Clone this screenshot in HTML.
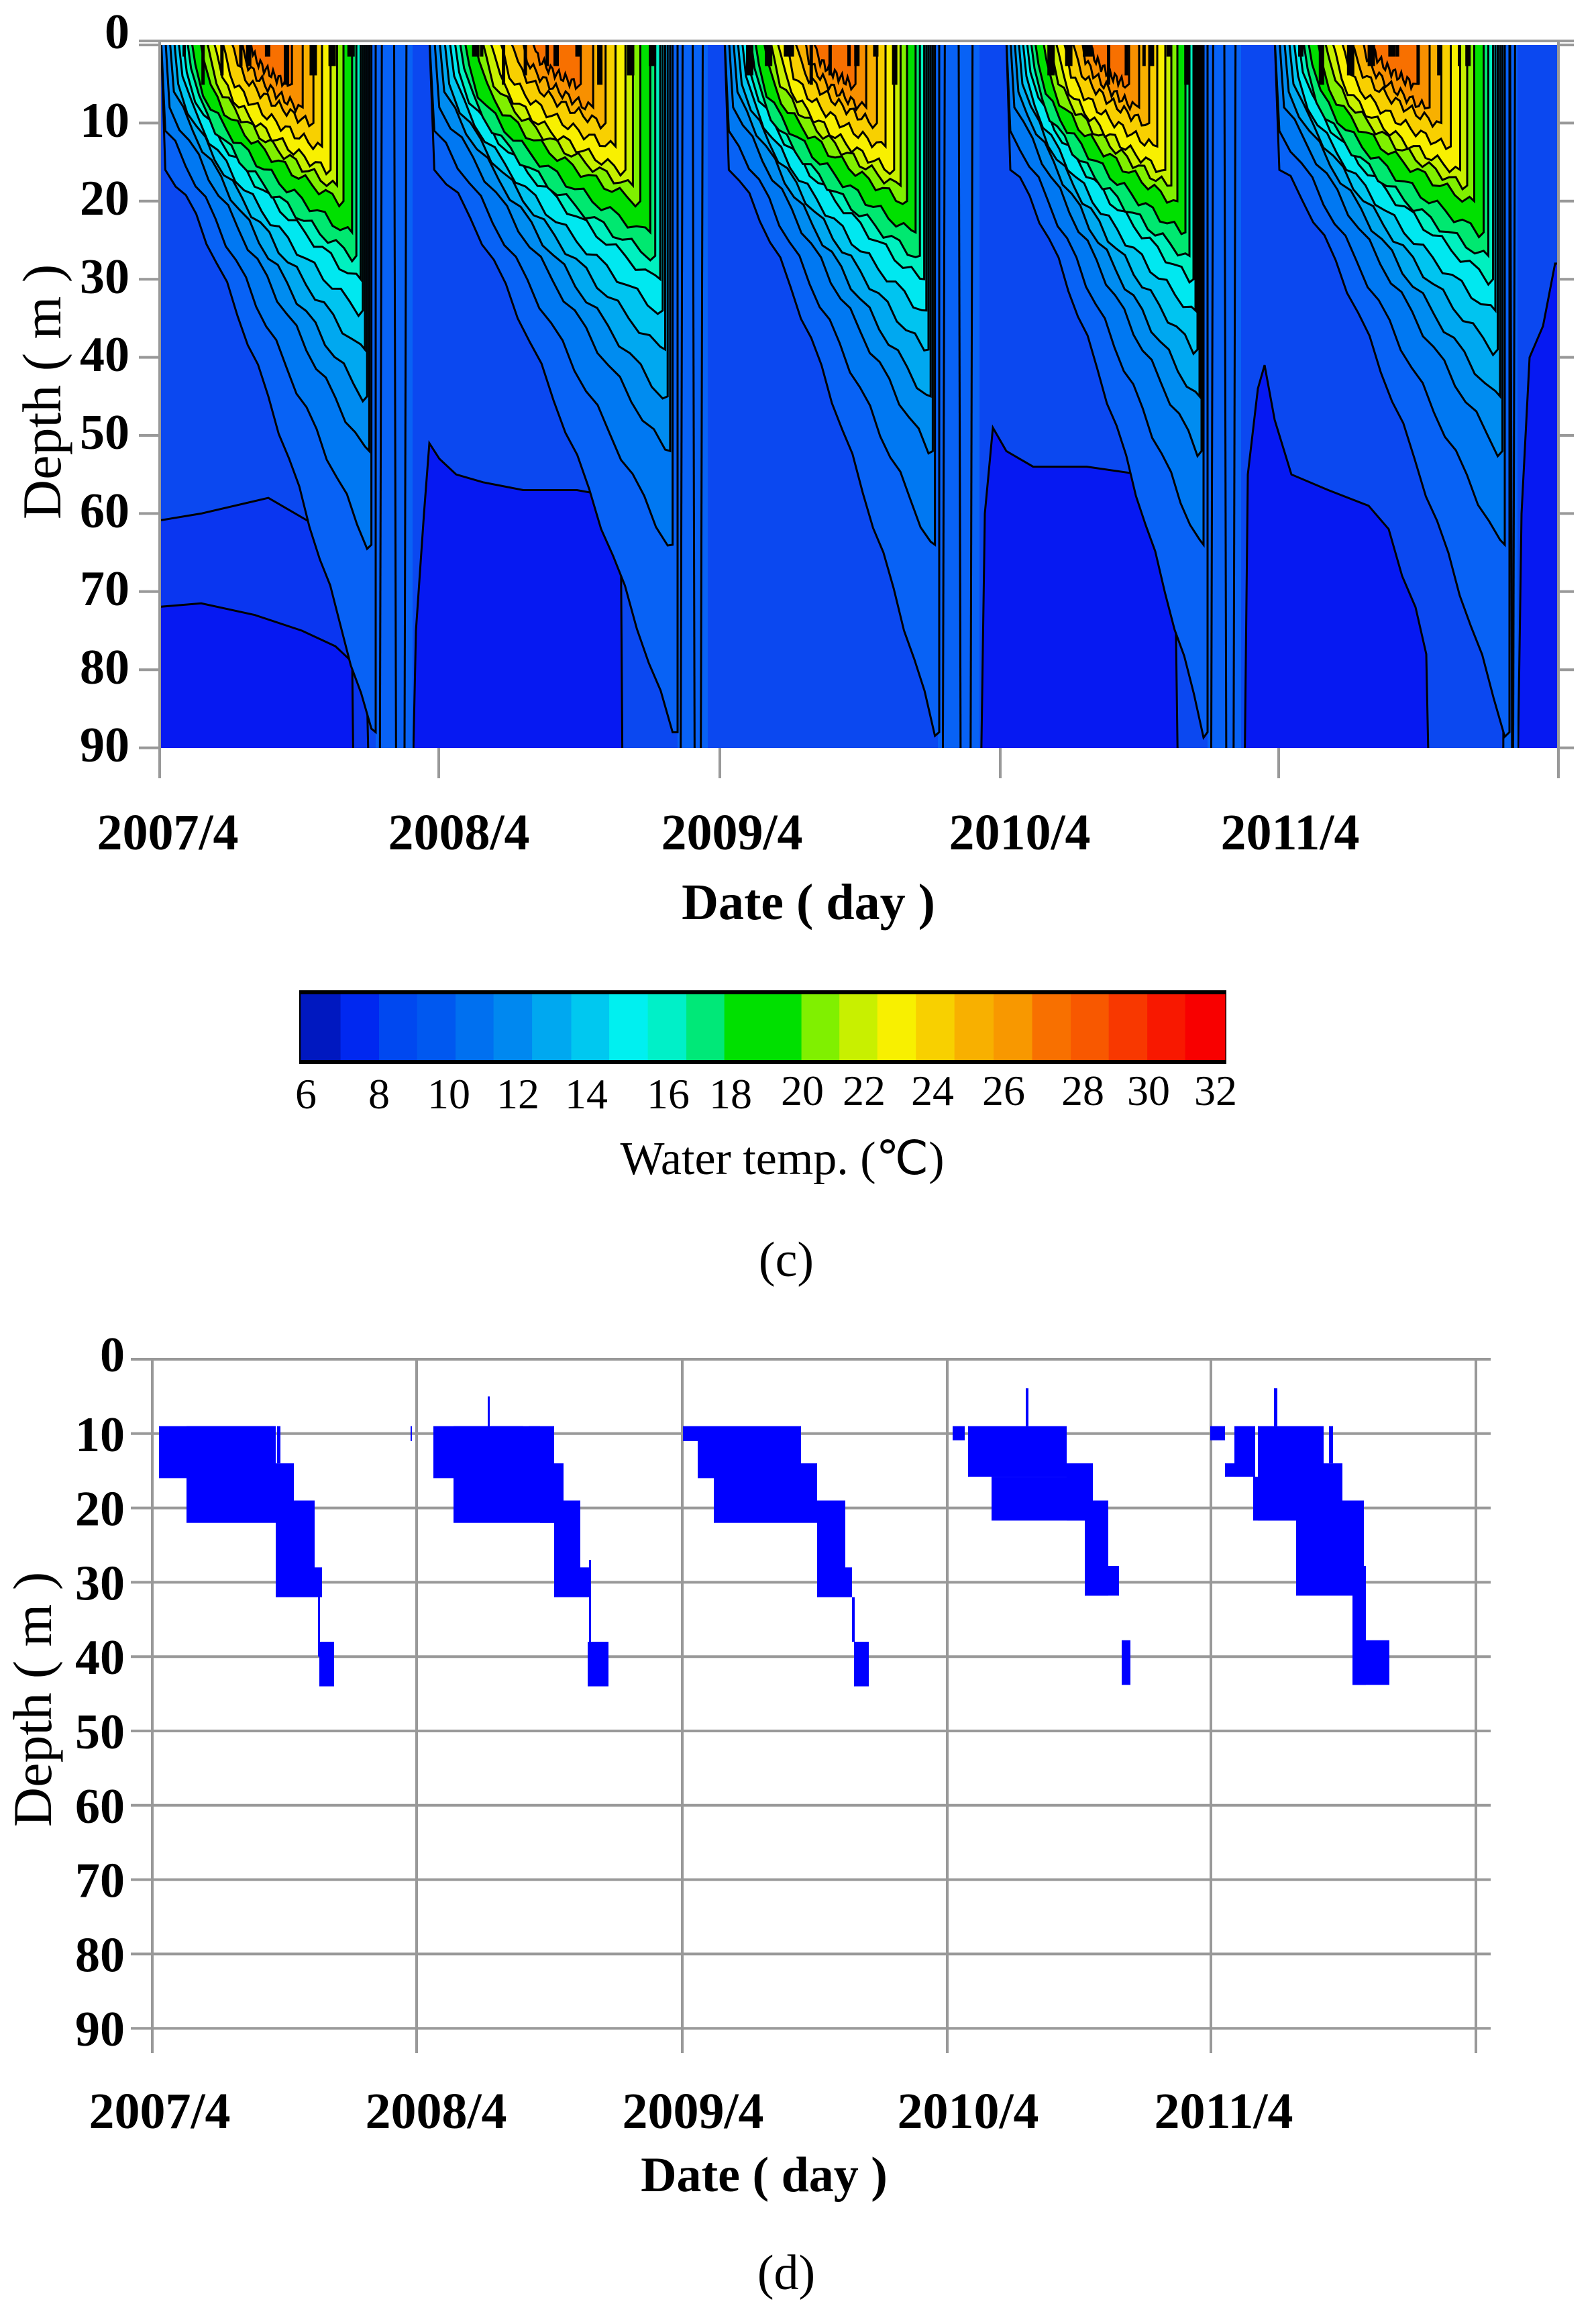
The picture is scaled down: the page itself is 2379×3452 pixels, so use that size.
<!DOCTYPE html>
<html><head><meta charset="utf-8">
<style>
html,body{margin:0;padding:0;background:#fff;}
body{width:2379px;height:3452px;position:relative;overflow:hidden;}
svg{position:absolute;left:0;top:0;}
.t{font-family:"Liberation Serif",serif;font-weight:bold;fill:#000;}
.c{font-family:"Liberation Serif",serif;fill:#000;}
</style></head><body>
<svg id="s" width="2379" height="3452" viewBox="0 0 2379 3452" xmlns="http://www.w3.org/2000/svg">
<defs><clipPath id="cp"><rect x="238" y="67" width="2086" height="1048"/></clipPath></defs>
<g id="contour" clip-path="url(#cp)">
<rect x="238" y="67" width="2086" height="1048" fill="#0b48f0"/>
</g>
<g stroke="#999" stroke-width="4" fill="none">
<line x1="207" y1="61" x2="2346" y2="61"/>
<line x1="238" y1="61" x2="238" y2="1160"/>
<line x1="2323" y1="61" x2="2323" y2="1160"/>
</g>
<g id="topticks" stroke="#999" stroke-width="4"></g>
<g class="t" font-size="74" text-anchor="end">
<text x="193" y="72">0</text>
<text x="193" y="204">10</text>
<text x="193" y="320">20</text>
<text x="193" y="437">30</text>
<text x="193" y="553">40</text>
<text x="193" y="669">50</text>
<text x="193" y="786">60</text>
<text x="193" y="902">70</text>
<text x="193" y="1019">80</text>
<text x="193" y="1135">90</text>
</g>
<text class="c" font-size="82" text-anchor="middle" transform="translate(90,584) rotate(-90)">Depth ( m )</text>
<g class="t" font-size="76" text-anchor="middle">
<text x="250" y="1266">2007/4</text>
<text x="684" y="1266">2008/4</text>
<text x="1091" y="1266">2009/4</text>
<text x="1520" y="1266">2010/4</text>
<text x="1923" y="1266">2011/4</text>
</g>
<text class="t" font-size="76" text-anchor="middle" x="1205" y="1370">Date ( day )</text>
<rect x="446" y="1476" width="1382" height="110" fill="#000"/>
<g id="cbar"></g>
<g class="c" font-size="64" text-anchor="middle">
<text x="456" y="1652">6</text>
<text x="565" y="1652">8</text>
<text x="669" y="1652">10</text>
<text x="772" y="1652">12</text>
<text x="874" y="1652">14</text>
<text x="996" y="1652">16</text>
<text x="1089" y="1652">18</text>
<text x="1196" y="1647">20</text>
<text x="1288" y="1647">22</text>
<text x="1390" y="1647">24</text>
<text x="1496" y="1647">26</text>
<text x="1614" y="1647">28</text>
<text x="1712" y="1647">30</text>
<text x="1812" y="1647">32</text>
</g>
<text class="c" font-size="70" text-anchor="middle" x="1166" y="1750">Water temp. (℃)</text>
<text class="c" font-size="74" text-anchor="middle" x="1172" y="1902">(c)</text>
<g id="grid" stroke="#999" stroke-width="4"></g>
<g id="blocks" fill="#0000ff"></g>
<g class="t" font-size="74" text-anchor="end" id="blab"></g>
<text class="c" font-size="82" text-anchor="middle" transform="translate(76,2533) rotate(-90)">Depth ( m )</text>
<g class="t" font-size="76" text-anchor="middle">
<text x="238" y="3172">2007/4</text>
<text x="650" y="3172">2008/4</text>
<text x="1033" y="3172">2009/4</text>
<text x="1443" y="3172">2010/4</text>
<text x="1824" y="3172">2011/4</text>
</g>
<text class="t" font-size="74" text-anchor="middle" x="1139" y="3266">Date ( day )</text>
<text class="c" font-size="74" text-anchor="middle" x="1172" y="3412">(d)</text>
</svg>
<script>
var NS="http://www.w3.org/2000/svg";
function el(p,t,a){var e=document.createElementNS(NS,t);for(var k in a)e.setAttribute(k,a[k]);document.getElementById(p).appendChild(e);return e;}
var Y0=67,S=11.64;function yd(d){return Y0+d*S;}
for(var i=0;i<=9;i++){var y=yd(i*10);el("topticks","line",{x1:207,y1:y,x2:238,y2:y});el("topticks","line",{x1:2323,y1:y,x2:2346,y2:y});}
[238,654,1073,1491,1906].forEach(function(x){el("topticks","line",{x1:x,y1:1115,x2:x,y2:1160});});
var cb=[[20,85,"#0018c0"],[85,148,"#0028f0"],[148,210,"#0048f0"],[210,273,"#0058f0"],[273,335,"#0070f0"],[335,398,"#0088f0"],[398,462,"#00a8f0"],[462,524,"#00c8f0"],[524,587,"#00f0f0"],[587,650,"#00f0c8"],[650,712,"#00e878"],[712,838,"#00e000"],[838,900,"#80f000"],[900,962,"#c8f000"],[962,1025,"#f8f000"],[1025,1088,"#f8d000"],[1088,1152,"#f8b000"],[1152,1215,"#f89800"],[1215,1278,"#f87000"],[1278,1340,"#f85800"],[1340,1403,"#f83800"],[1403,1465,"#f81800"],[1465,1530,"#f80000"]];
cb.forEach(function(c){var a=430+c[0]/1.096,b=430+c[1]/1.096;el("cbar","rect",{x:a,y:1482,width:b-a+0.5,height:98,fill:c[2]});});
function poly(pts,fill,sw){el("contour","polygon",{points:pts.map(function(p){return p[0].toFixed(1)+","+p[1].toFixed(1)}).join(" "),fill:fill,stroke:"#000","stroke-width":sw===undefined?3:sw});}
poly([[230,yd(61)],[300,yd(60)],[400,yd(58)],[460,yd(61)],[500,yd(62)],[530,yd(66)],[545,yd(75)],[550,yd(95)],[230,yd(95)]],"#0a36f0");
poly([[230,yd(72)],[300,yd(71.5)],[380,yd(73)],[450,yd(75)],[500,yd(77)],[525,yd(79)],[527,yd(95)],[230,yd(95)]],"#0619f2");
poly([[615,yd(95)],[620,yd(75)],[632,yd(60)],[640,yd(51)],[655,yd(53)],[680,yd(55)],[720,yd(56)],[780,yd(57)],[860,yd(57)],[925,yd(58)],[928,yd(95)]],"#0619f2");
poly([[1462,yd(95)],[1468,yd(60)],[1480,yd(49)],[1500,yd(52)],[1540,yd(54)],[1620,yd(54)],[1700,yd(55)],[1750,yd(57)],[1756,yd(95)]],"#0619f2");
poly([[1855,yd(95)],[1860,yd(55)],[1875,yd(44)],[1885,yd(41)],[1900,yd(48)],[1925,yd(55)],[1980,yd(57)],[2040,yd(59)],[2070,yd(62)],[2090,yd(68)],[2110,yd(72)],[2126,yd(78)],[2130,yd(95)]],"#0619f2");
poly([[2262,yd(95)],[2268,yd(60)],[2280,yd(40)],[2300,yd(36)],[2318,yd(28)],[2330,yd(28)],[2330,yd(95)]],"#0619f2");
[[560,615],[1010,1055],[1398,1460],[1800,1850],[2240,2262]].forEach(function(b){poly([[b[0],yd(-1)],[b[1],yd(-1)],[b[1],yd(95)],[b[0],yd(95)]],"#0862f5",0);
 for(var k=0;k<3;k++){var x=b[0]+(k+0.5)*(b[1]-b[0])/3;el("contour","line",{x1:x,y1:yd(0),x2:x+((k%2)?3:-3),y2:yd(95),stroke:"#000","stroke-width":3});}});
var L=[["#0862f5",0.0,16,1.0,88,1.3],["#0078f2",0.0,11,0.98,64,1.1],["#008cf0",0.02,8,0.97,52,1],["#00a8f0",0.04,6,0.96,45,0.9],["#00c4f0",0.06,5,0.95,39,0.8],["#00e8f0",0.08,4,0.94,34,0.7],["#00f0c0",0.10,3.5,0.93,30,0.7],["#00e870",0.12,3,0.91,27,0.6],["#00e000",0.14,2.5,0.89,24,0.6],["#80f000",0.18,2,0.85,20,0.55],["#c8f000",0.21,1.5,0.82,18,0.55],["#f8f000",0.24,1,0.79,16,0.5],["#f8d000",0.28,1,0.75,13,0.5],["#f8b000",0.32,0.5,0.71,10,0.5],["#f89000",0.36,0,0.66,8,0.5],["#f87000",0.40,0,0.61,5,0.5]];
var yrs=[[240,560],[640,1010],[1080,1400],[1500,1800],[1900,2250]];
yrs.forEach(function(yr,yi){var s=yr[0],w=yr[1]-yr[0];
 L.forEach(function(l,li){var xl=s+l[1]*w,xr=s+l[3]*w,pts=[[xl,yd(-1)],[xl+0.02*w,yd(l[2])]];
  var xa=xl+0.02*w,xb=xr-0.02*w;
  for(var u=0.05;u<=1.001;u+=0.05){var d=l[2]+(l[4]-l[2])*Math.pow(u,l[5]);d+=Math.sin(u*37+li*3+yi*7)*0.7;pts.push([xa+u*(xb-xa),yd(Math.max(d,0))]);}
  pts.push([xr,yd(l[4])]);pts.push([xr,yd(-1)]);poly(pts,l[0]);});
 for(var k=0;k<10;k++){var x=s+w*(0.1+0.8*((k*0.37+yi*0.13)%1));el("contour","rect",{x:x,y:yd(0),width:5+(k%3)*3,height:(1.5+(k%4)*1.2)*S,fill:"#000"});}
});
var B0=2026,BS=110.8;
for(var i=0;i<=9;i++){var y=B0+i*BS;el("grid","line",{x1:195,y1:y,x2:2222,y2:y});var t=document.createElementNS(NS,"text");t.setAttribute("x",186);t.setAttribute("y",y+26-(i==0?8:0));t.textContent=String(i*10);document.getElementById("blab").appendChild(t);}
[227,621,1017,1412,1805,2200].forEach(function(x){el("grid","line",{x1:x,y1:B0,x2:x,y2:3060});});
function by(d){return B0+d*BS/10;}
var R=[[237,411,9,16],[278,411,9,22],[413,418,9,14],[411,438,14,32],[438,469,19,32],[469,480,28,32],[474,477,32,40],[476,498,38,44],
[646,780,9,16],[676,826,9,22],[788,805,9,14],[805,840,14,22],[826,865,19,32],[865,880,28,32],[878,881,27,38],[876,907,38,44],[727,730,5,9],[612,614,9,11],
[1018,1040,9,11],[1040,1064,9,16],[1064,1194,9,22],[1194,1218,14,22],[1218,1260,19,32],[1260,1270,28,32],[1270,1274,32,38],[1273,1295,38,44],
[1420,1438,9,10.9],[1443,1590,9,15.8],[1478,1617,15.8,21.7],[1590,1629,14,21.7],[1617,1652,19,31.8],[1617,1668,27.8,31.8],[1672,1685,37.8,43.8],[1529,1533,3.9,9],
[1804,1826,9,10.9],[1840,1871,9,15.8],[1826,1871,14,15.8],[1875,1973,9,21.7],[1868,1933,15.8,21.7],[1973,2001,14,21.7],[1932,2033,19,31.8],[2016,2036,27.8,43.8],[2016,2071,37.8,43.8],[1981,1987,9,14],[1899,1904,3.9,9]];
R.forEach(function(r){el("blocks","rect",{x:r[0],y:by(r[2]),width:r[1]-r[0],height:by(r[3])-by(r[2])});});
</script>
</body></html>
